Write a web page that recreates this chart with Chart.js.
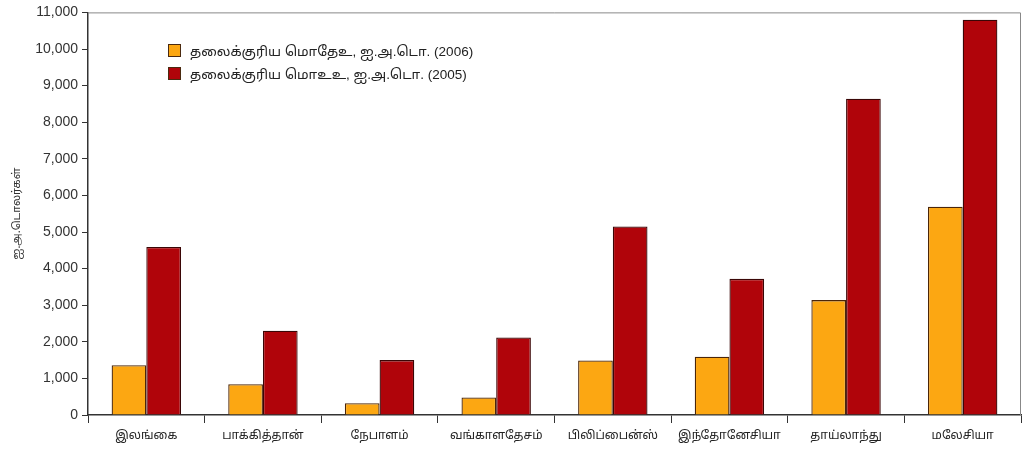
<!DOCTYPE html>
<html lang="ta">
<head>
<meta charset="utf-8">
<title>தலைக்குரிய மொதேஉ</title>
<style>
  html, body { margin: 0; padding: 0; background: #ffffff; }
  .wrap { position: relative; width: 1029px; height: 452px; }
  #legend {
    position: absolute; left: 168px; top: 40px;
    font-family: "Liberation Sans", "Noto Sans Tamil", "Noto Sans", sans-serif;
    font-size: 13.5px; color: #222; line-height: 23px;
  }
  #legend .sw {
    display: inline-block; width: 13px; height: 13px; margin-right: 9px;
    vertical-align: -1px; box-sizing: border-box; border: 1px solid #4a2a10;
  }
</style>
</head>
<body>
<div class="wrap">
  <canvas id="chart" width="1029" height="452"></canvas>
  <div id="legend"></div>
</div>

<script src="https://cdn.jsdelivr.net/npm/chart.js@4/dist/chart.umd.min.js"></script>
<script>
// countries
const categories = ['இலங்கை', 'பாக்கித்தான்', 'நேபாளம்', 'வங்காளதேசம்', 'பிலிப்பைன்ஸ்', 'இந்தோனேசியா', 'தாய்லாந்து', 'மலேசியா'];
// per capita GDP, US$ (2006)
const gdp2006 = [1360, 840, 320, 480, 1490, 1590, 3140, 5690];
// per capita GDP PPP, US$ (2005)
const ppp2005 = [4590, 2300, 1500, 2120, 5150, 3720, 8640, 10800];
const seriesNames = ['தலைக்குரிய மொதேஉ, ஐ.அ.டொ. (2006)', 'தலைக்குரிய மொஉஉ, ஐ.அ.டொ. (2005)'];
const yTicks = [0, 1000, 2000, 3000, 4000, 5000, 6000, 7000, 8000, 9000, 10000, 11000];

const tamilFont = '"Noto Sans Tamil", "Lohit Tamil", "Noto Sans", sans-serif';

// thin frame round the plot (top and right edges of the scan)
const frame = {
  id: 'frame',
  beforeDatasetsDraw(chart) {
    const a = chart.chartArea, ctx = chart.ctx;
    ctx.save();
    ctx.strokeStyle = '#888';
    ctx.lineWidth = 1;
    ctx.beginPath();
    ctx.moveTo(a.left, a.top + 0.5);
    ctx.lineTo(a.right - 0.5, a.top + 0.5);
    ctx.lineTo(a.right - 0.5, a.bottom);
    ctx.stroke();
    ctx.restore();
  }
};

const chart = new Chart(document.getElementById('chart'), {
  type: 'bar',
  data: {
    labels: categories,
    datasets: [
      { label: seriesNames[0], data: gdp2006, backgroundColor: '#fca712', borderColor: '#4a2508', borderWidth: 1.3 },
      { label: seriesNames[1], data: ppp2005, backgroundColor: '#b0040a', borderColor: '#3a0606', borderWidth: 1.3 }
    ]
  },
  options: {
    responsive: false,
    animation: false,
    devicePixelRatio: 1,
    datasets: { bar: { categoryPercentage: 0.595, barPercentage: 1.0 } },
    layout: { padding: { top: 8, right: 8, left: 0, bottom: 0 } },
    plugins: { legend: { display: false }, tooltip: { enabled: false } },
    scales: {
      x: {
        grid: { drawOnChartArea: false, offset: true, tickLength: 8, color: '#333' },
        border: { color: '#333', width: 1.5 },
        ticks: { color: '#222', font: { family: tamilFont, size: 12 }, padding: 6 },
        afterFit(s) { s.height = 37; }
      },
      y: {
        min: 0, max: 11000,
        afterBuildTicks(s) { s.ticks = yTicks.map(v => ({ value: v })); },
        grid: { drawOnChartArea: false, tickLength: 6, color: '#333' },
        border: { color: '#333', width: 1.5 },
        ticks: {
          color: '#333', padding: 4,
          font: { family: '"Liberation Sans", Arial, sans-serif', size: 14 },
          callback: v => v.toLocaleString('en-US')
        },
        title: {
          display: true, text: 'ஐ.அ.டொலர்கள்', color: '#333',
          font: { family: tamilFont, size: 11 }, padding: { top: 11, bottom: 0 }
        },
        afterFit(s) { s.width = 88; }
      }
    }
  },
  plugins: [frame]
});

// legend built from the datasets
document.getElementById('legend').innerHTML = chart.data.datasets.map(d =>
  '<div><span class="sw" style="background:' + d.backgroundColor + '"></span>' + d.label + '</div>'
).join('');
</script>
</body>
</html>
